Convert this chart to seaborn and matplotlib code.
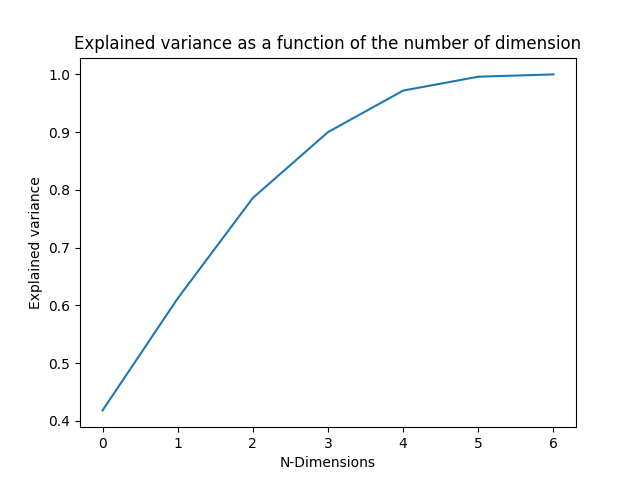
import matplotlib
matplotlib.use("Agg")
import matplotlib.pyplot as plt
import seaborn as sns

n_dims = [0, 1, 2, 3, 4, 5, 6]
explained = [0.418, 0.612, 0.786, 0.900, 0.972, 0.996, 1.000]

fig, ax = plt.subplots(figsize=(6.4, 4.8), dpi=100)
sns.lineplot(x=n_dims, y=explained, ax=ax, color="#1f77b4")
ax.set_title("Explained variance as a function of the number of dimension")
ax.set_xlabel("N-Dimensions")
ax.set_ylabel("Explained variance")
fig.savefig("out.png")
